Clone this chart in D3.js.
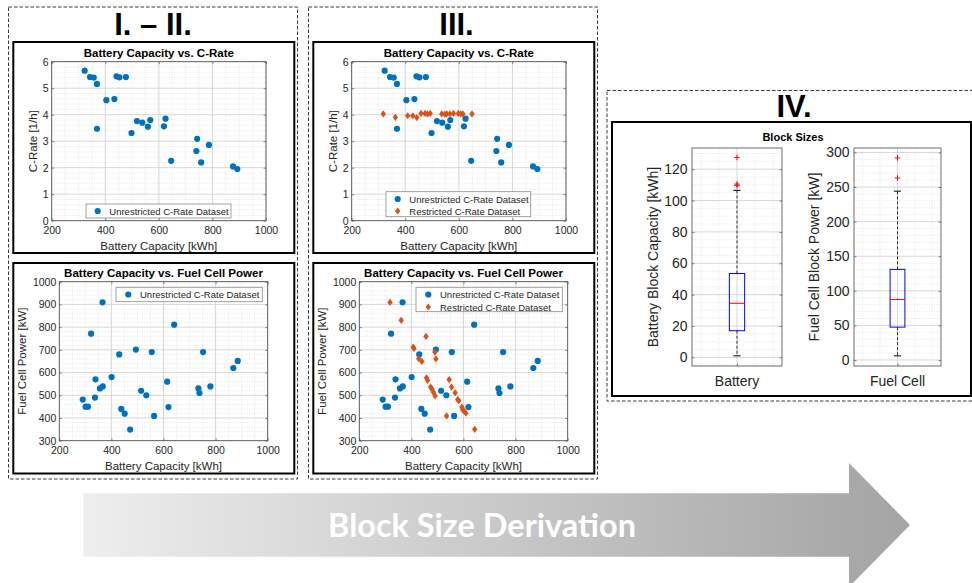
<!DOCTYPE html>
<html><head><meta charset="utf-8">
<script src="https://cdn.jsdelivr.net/npm/d3@7"></script>
<style>html,body{margin:0;padding:0;background:#fff}svg{display:block}</style>
</head><body>
<svg id="fig" width="972" height="583"></svg>
<script>
// ---------------- DATA ----------------
const capacityTicks = [200, 400, 600, 800, 1000];
const cRateTicks = [0, 1, 2, 3, 4, 5, 6];
const powerTicks = [300, 400, 500, 600, 700, 800, 900, 1000];

// Unrestricted dataset as seen in "Battery Capacity vs. C-Rate"
const unrestrictedCapacityCR = [323,343,357,369,369,404,434,442,453,477,498,518,538,559,568,619,625,646,740,743,758,787,877,893];
const unrestrictedCRate      = [5.66,5.42,5.40,5.16,3.47,4.55,4.59,5.45,5.41,5.42,3.31,3.76,3.70,3.55,3.80,3.56,3.85,2.26,2.63,3.09,2.20,2.86,2.05,1.95];

// Unrestricted dataset as seen in "Battery Capacity vs. Fuel Cell Power"
const unrestrictedCapacityFC = [290,301,310,322,337,339,356,366,367,401,430,438,451,472,494,514,534,555,564,614,619,641,734,738,752,780,868,885];
const unrestrictedPower      = [481,450,450,771,490,570,530,909,539,580,680,440,419,349,701,520,500,690,409,560,448,811,530,510,690,539,620,651];

// Restricted dataset
const restrictedCapacityCR = [318,363,409,428,443,459,474,483,493,536,548,555,567,580,598,607,615,649];
const restrictedCRate      = [4.03,3.90,3.96,3.96,3.89,4.05,4.05,4.03,4.05,4.03,4.02,4.03,4.03,4.05,4.05,4.03,4.03,4.03];
const restrictedCapacityFC = [318,361,407,410,428,440,456,458,462,474,479,484,491,490,494,535,545,554,568,578,582,594,597,602,609,643];
const restrictedPower      = [909,830,712,706,661,649,759,577,566,536,527,514,497,690,660,409,569,536,511,481,476,448,437,431,421,350];

// Block sizes box plots: [lower whisker, Q1, median, Q3, upper whisker]
const batteryBlockTicks = [0, 20, 40, 60, 80, 100, 120];
const batteryBlockBox = [1, 17, 34.5, 53.5, 106.5];
const batteryBlockOutliers = [109.5, 110.5, 127.5];
const fuelCellBlockTicks = [0, 50, 100, 150, 200, 250, 300];
const fuelCellBlockBox = [6, 47.5, 87.5, 131, 244];
const fuelCellBlockOutliers = [263, 292];

// ---------------- STYLE ----------------
const svg = d3.select('#fig');
const FONT = "'Liberation Sans', Arial, Helvetica, sans-serif";
const TXT = '#262626';
const BLUE = '#0072BD';
const ORANGE = '#D95319';
const GRID_MAJOR = '#d2d2d2';
const GRID_MINOR = '#e0e0e0';
const plain = d => String(d);

function dashedFrame(x0, y0, x1, y1) {
  svg.append('rect').attr('x', x0).attr('y', y0).attr('width', x1 - x0).attr('height', y1 - y0)
    .attr('fill', 'none').attr('stroke', '#3c3c3c').attr('stroke-width', 1).attr('stroke-dasharray', '3.5,2');
}
function solidFrame(x0, y0, x1, y1) {
  svg.append('rect').attr('x', x0).attr('y', y0).attr('width', x1 - x0).attr('height', y1 - y0)
    .attr('fill', '#fff').attr('stroke', '#000').attr('stroke-width', 2);
}
function heading(txt, x, y) {
  svg.append('text').text(txt).attr('x', x).attr('y', y).attr('text-anchor', 'middle')
    .attr('font-family', FONT).attr('font-weight', 700).attr('font-size', 31).attr('fill', '#000');
}
function txt(g, s, x, y, size, opts = {}) {
  const t = g.append('text').text(s).attr('x', x).attr('y', y).attr('font-family', FONT)
    .attr('font-size', size).attr('fill', opts.fill || TXT).attr('text-anchor', opts.anchor || 'middle')
    .attr('dominant-baseline', 'central');
  if (opts.bold) t.attr('font-weight', 700);
  if (opts.rotate) t.attr('transform', `rotate(-90,${x},${y})`);
  return t;
}
function diamond(g, cx, cy) {
  g.append('path').attr('d', `M${cx},${cy-3.6}L${cx+2.7},${cy}L${cx},${cy+3.6}L${cx-2.7},${cy}Z`).attr('fill', ORANGE);
}

// ---------------- FRAMES ----------------
dashedFrame(8.5, 7, 297.5, 479);
dashedFrame(308.5, 7, 597.5, 479);
dashedFrame(607, 90.5, 978, 401);
heading('I. \u2013 II.', 153, 35);
heading('III.', 456.5, 35);
heading('IV.', 794, 117);
solidFrame(13.3, 42, 294.3, 253);
solidFrame(13.3, 263, 294.3, 473.5);
solidFrame(313.3, 42, 594.3, 253);
solidFrame(313.3, 263, 594.3, 473.5);
solidFrame(612, 122, 971, 396);

// ---------------- SCATTER PANELS ----------------
function scatterPanel(c) {
  const g = svg.append('g');
  const x = d3.scaleLinear().domain([capacityTicks[0], capacityTicks[capacityTicks.length-1]]).range([c.left, c.right]);
  const y = d3.scaleLinear().domain([c.yTicks[0], c.yTicks[c.yTicks.length-1]]).range([c.bottom, c.top]);
  const xMinor = d3.range(x.domain()[0], x.domain()[1] + 1e-9, 50).filter(v => !capacityTicks.includes(v));
  const yStep = c.yMinorStep;
  const yMinor = d3.range(y.domain()[0], y.domain()[1] + 1e-9, yStep).filter(v => !c.yTicks.some(t => Math.abs(t - v) < 1e-6));
  g.selectAll(null).data(xMinor).join('line').attr('x1', d => x(d)).attr('x2', d => x(d)).attr('y1', c.top).attr('y2', c.bottom)
    .attr('stroke', GRID_MINOR).attr('stroke-width', 0.8).attr('stroke-dasharray', '1,1.5');
  g.selectAll(null).data(yMinor).join('line').attr('y1', d => y(d)).attr('y2', d => y(d)).attr('x1', c.left).attr('x2', c.right)
    .attr('stroke', GRID_MINOR).attr('stroke-width', 0.8).attr('stroke-dasharray', '1,1.5');
  g.selectAll(null).data(capacityTicks).join('line').attr('x1', d => x(d)).attr('x2', d => x(d)).attr('y1', c.top).attr('y2', c.bottom)
    .attr('stroke', GRID_MAJOR).attr('stroke-width', 0.9);
  g.selectAll(null).data(c.yTicks).join('line').attr('y1', d => y(d)).attr('y2', d => y(d)).attr('x1', c.left).attr('x2', c.right)
    .attr('stroke', GRID_MAJOR).attr('stroke-width', 0.9);

  const style = sel => { sel.select('.domain').remove(); sel.selectAll('line').attr('stroke', '#404040').attr('stroke-width', 0.6);
    sel.selectAll('text').attr('font-family', FONT).attr('font-size', 10.5).attr('fill', TXT); };
  g.append('g').attr('transform', `translate(0,${c.bottom})`).call(d3.axisBottom(x).tickValues(capacityTicks).tickFormat(plain).tickSize(-2.5).tickPadding(5.5)).call(style);
  g.append('g').attr('transform', `translate(0,${c.top})`).call(d3.axisTop(x).tickValues(capacityTicks).tickSize(-2.5).tickFormat('')).call(style);
  g.append('g').attr('transform', `translate(${c.left},0)`).call(d3.axisLeft(y).tickValues(c.yTicks).tickFormat(plain).tickSize(-2.5).tickPadding(3)).call(style);
  g.append('g').attr('transform', `translate(${c.right},0)`).call(d3.axisRight(y).tickValues(c.yTicks).tickSize(-2.5).tickFormat('')).call(style);
  g.append('rect').attr('x', c.left).attr('y', c.top).attr('width', c.right - c.left).attr('height', c.bottom - c.top)
    .attr('fill', 'none').attr('stroke', '#4a4a4a').attr('stroke-width', 0.8);

  const clipId = 'clip' + Math.round(c.left) + Math.round(c.top);
  svg.append('clipPath').attr('id', clipId).append('rect').attr('x', c.left).attr('y', c.top).attr('width', c.right - c.left).attr('height', c.bottom - c.top);
  const pts = g.append('g').attr('clip-path', `url(#${clipId})`);
  pts.selectAll(null).data(c.blueX.map((v, i) => [v, c.blueY[i]])).join('circle')
    .attr('cx', d => x(d[0])).attr('cy', d => y(d[1])).attr('r', 3.1).attr('fill', BLUE);
  if (c.orangeX) c.orangeX.forEach((v, i) => diamond(pts, x(v), y(c.orangeY[i])));

  txt(g, c.title, (c.left + c.right) / 2, c.titleY, 11.5, { bold: true, fill: '#000' });
  txt(g, 'Battery Capacity [kWh]', (c.left + c.right) / 2, c.xLabelY, 11.5);
  txt(g, c.yLabel, c.yLabelX, (c.top + c.bottom) / 2, 11.5, { rotate: true });

  // legend
  const L = c.legend;
  g.append('rect').attr('x', L.x0).attr('y', L.y0).attr('width', L.x1 - L.x0).attr('height', L.y1 - L.y0)
    .attr('fill', '#fff').attr('stroke', '#8a8a8a').attr('stroke-width', 0.8);
  L.items.forEach(it => {
    if (it.kind === 'circle') g.append('circle').attr('cx', L.mx).attr('cy', it.y).attr('r', 3.1).attr('fill', BLUE);
    else diamond(g, L.mx, it.y);
    txt(g, it.label, L.tx, it.y, 9.5, { anchor: 'start' });
  });
}

const U = 'Unrestricted C-Rate Dataset', R = 'Restricted C-Rate Dataset';
const topCfg = off => ({ left: 51.7 + off, right: 266 + off, top: 61.7, bottom: 220.7, yTicks: cRateTicks, yMinorStep: 0.2,
  title: 'Battery Capacity vs. C-Rate', titleY: 53, xLabelY: 246, yLabel: 'C-Rate [1/h]', yLabelX: 33 + off,
  blueX: unrestrictedCapacityCR, blueY: unrestrictedCRate });
const botCfg = off => ({ left: 59.3 + off, right: 267.7 + off, top: 281.7, bottom: 440.7, yTicks: powerTicks, yMinorStep: 20,
  title: 'Battery Capacity vs. Fuel Cell Power', titleY: 273.3, xLabelY: 465.7, yLabel: 'Fuel Cell Power [kW]', yLabelX: 21.7 + off,
  blueX: unrestrictedCapacityFC, blueY: unrestrictedPower });

scatterPanel(Object.assign(topCfg(0), { legend: { x0: 86, y0: 204, x1: 231, y1: 218, mx: 97.7, tx: 109.3,
  items: [{ kind: 'circle', label: U, y: 211 }] } }));
scatterPanel(Object.assign(botCfg(0), { legend: { x0: 116, y0: 287.3, x1: 262.3, y1: 301.7, mx: 128.3, tx: 140,
  items: [{ kind: 'circle', label: U, y: 294.5 }] } }));
scatterPanel(Object.assign(topCfg(300), { orangeX: restrictedCapacityCR, orangeY: restrictedCRate,
  legend: { x0: 386, y0: 191.7, x1: 530.7, y1: 216.7, mx: 397.7, tx: 409.3,
  items: [{ kind: 'circle', label: U, y: 199 }, { kind: 'diamond', label: R, y: 211 }] } }));
scatterPanel(Object.assign(botCfg(300), { orangeX: restrictedCapacityFC, orangeY: restrictedPower,
  legend: { x0: 416, y0: 287.3, x1: 562.3, y1: 311.7, mx: 428.3, tx: 440,
  items: [{ kind: 'circle', label: U, y: 294.5 }, { kind: 'diamond', label: R, y: 307 }] } }));

// ---------------- BOX PLOTS ----------------
txt(svg, 'Block Sizes', 793, 137, 11, { bold: true, fill: '#000' });
function boxPanel(c) {
  const g = svg.append('g');
  const x = d3.scaleLinear().domain([0.5, 1.5]).range([c.left, c.right]);
  const y = d3.scaleLinear().domain(c.yDomain).range([c.bottom, c.top]);
  const yMinor = d3.range(Math.ceil(c.yDomain[0] / c.minorStep) * c.minorStep, c.yDomain[1], c.minorStep)
    .filter(v => !c.ticks.includes(v));
  const xMinor = [0.6, 0.8, 1.2, 1.4];
  g.selectAll(null).data(yMinor).join('line').attr('y1', d => y(d)).attr('y2', d => y(d)).attr('x1', c.left).attr('x2', c.right)
    .attr('stroke', GRID_MINOR).attr('stroke-width', 0.8).attr('stroke-dasharray', '1,1.5');
  g.selectAll(null).data(xMinor).join('line').attr('x1', d => x(d)).attr('x2', d => x(d)).attr('y1', c.top).attr('y2', c.bottom)
    .attr('stroke', GRID_MINOR).attr('stroke-width', 0.8).attr('stroke-dasharray', '1,1.5');
  g.selectAll(null).data(c.ticks).join('line').attr('y1', d => y(d)).attr('y2', d => y(d)).attr('x1', c.left).attr('x2', c.right)
    .attr('stroke', GRID_MAJOR).attr('stroke-width', 0.9);
  g.append('line').attr('x1', x(1)).attr('x2', x(1)).attr('y1', c.top).attr('y2', c.bottom).attr('stroke', GRID_MAJOR).attr('stroke-width', 0.9);

  const style = sel => { sel.select('.domain').remove(); sel.selectAll('line').attr('stroke', '#404040').attr('stroke-width', 0.6);
    sel.selectAll('text').attr('font-family', FONT).attr('font-size', 14).attr('fill', TXT); };
  g.append('g').attr('transform', `translate(${c.left},0)`).call(d3.axisLeft(y).tickValues(c.ticks).tickFormat(plain).tickSize(-2.5).tickPadding(4.5)).call(style);
  g.append('g').attr('transform', `translate(${c.right},0)`).call(d3.axisRight(y).tickValues(c.ticks).tickSize(-2.5).tickFormat('')).call(style);
  g.append('g').attr('transform', `translate(0,${c.bottom})`).call(d3.axisBottom(x).tickValues([1]).tickSize(-2.5).tickFormat('')).call(style);
  g.append('rect').attr('x', c.left).attr('y', c.top).attr('width', c.right - c.left).attr('height', c.bottom - c.top)
    .attr('fill', 'none').attr('stroke', '#4a4a4a').attr('stroke-width', 0.8);

  const [lo, q1, med, q3, hi] = c.box;
  const cx = x(1), bl = x(0.915), br = x(1.085), cl = x(0.96), cr = x(1.04);
  g.append('line').attr('x1', cx).attr('x2', cx).attr('y1', y(q3)).attr('y2', y(hi)).attr('stroke', '#000').attr('stroke-width', 0.8).attr('stroke-dasharray', '3,2');
  g.append('line').attr('x1', cx).attr('x2', cx).attr('y1', y(q1)).attr('y2', y(lo)).attr('stroke', '#000').attr('stroke-width', 0.8).attr('stroke-dasharray', '3,2');
  [lo, hi].forEach(v => g.append('line').attr('x1', cl).attr('x2', cr).attr('y1', y(v)).attr('y2', y(v)).attr('stroke', '#000').attr('stroke-width', 1));
  g.append('rect').attr('x', bl).attr('y', y(q3)).attr('width', br - bl).attr('height', y(q1) - y(q3))
    .attr('fill', 'none').attr('stroke', '#0000ff').attr('stroke-width', 1);
  g.append('line').attr('x1', bl).attr('x2', br).attr('y1', y(med)).attr('y2', y(med)).attr('stroke', '#ff0000').attr('stroke-width', 1);
  c.outliers.forEach(v => {
    g.append('path').attr('d', `M${cx - 2.8},${y(v)}H${cx + 2.8}M${cx},${y(v) - 2.8}V${y(v) + 2.8}`)
      .attr('stroke', '#ff0000').attr('stroke-width', 1).attr('fill', 'none');
  });
  txt(g, c.xLabel, cx, 380.5, 14);
  txt(g, c.yLabel, c.yLabelX, (c.top + c.bottom) / 2, 14, { rotate: true });
}
boxPanel({ left: 692, right: 782, top: 148, bottom: 366, yDomain: [-5.5, 133.5], ticks: batteryBlockTicks, minorStep: 5,
  box: batteryBlockBox, outliers: batteryBlockOutliers, xLabel: 'Battery', yLabel: 'Battery Block Capacity [kWh]', yLabelX: 653 });
boxPanel({ left: 854, right: 941, top: 148, bottom: 366, yDomain: [-8.7, 306.4], ticks: fuelCellBlockTicks, minorStep: 10,
  box: fuelCellBlockBox, outliers: fuelCellBlockOutliers, xLabel: 'Fuel Cell', yLabel: 'Fuel Cell Block Power [kW]', yLabelX: 814 });

// ---------------- ARROW ----------------
const defs = svg.append('defs');
const grad = defs.append('linearGradient').attr('id', 'arrowGrad').attr('gradientUnits', 'userSpaceOnUse')
  .attr('x1', 83).attr('y1', 0).attr('x2', 910).attr('y2', 0);
grad.append('stop').attr('offset', '0%').attr('stop-color', '#eeeeee');
grad.append('stop').attr('offset', '92%').attr('stop-color', '#a9a9a9');
grad.append('stop').attr('offset', '100%').attr('stop-color', '#a5a5a5');
svg.append('path').attr('d', 'M83.3,493.3 L849,493.3 L849,463 L910,525 L849,587 L849,556.7 L83.3,556.7 Z').attr('fill', 'url(#arrowGrad)');
const at = svg.append('text').text('Block Size Derivation').attr('x', 0).attr('y', 0).attr('text-anchor', 'middle')
  .attr('font-family', "Lato, 'Open Sans', 'Noto Sans', sans-serif").attr('font-weight', 700).attr('font-size', 32).attr('fill', '#ffffff');
const aw = at.node().getComputedTextLength();
at.attr('transform', `translate(482,536.7) scale(${308 / aw},1)`);
</script>
</body></html>
